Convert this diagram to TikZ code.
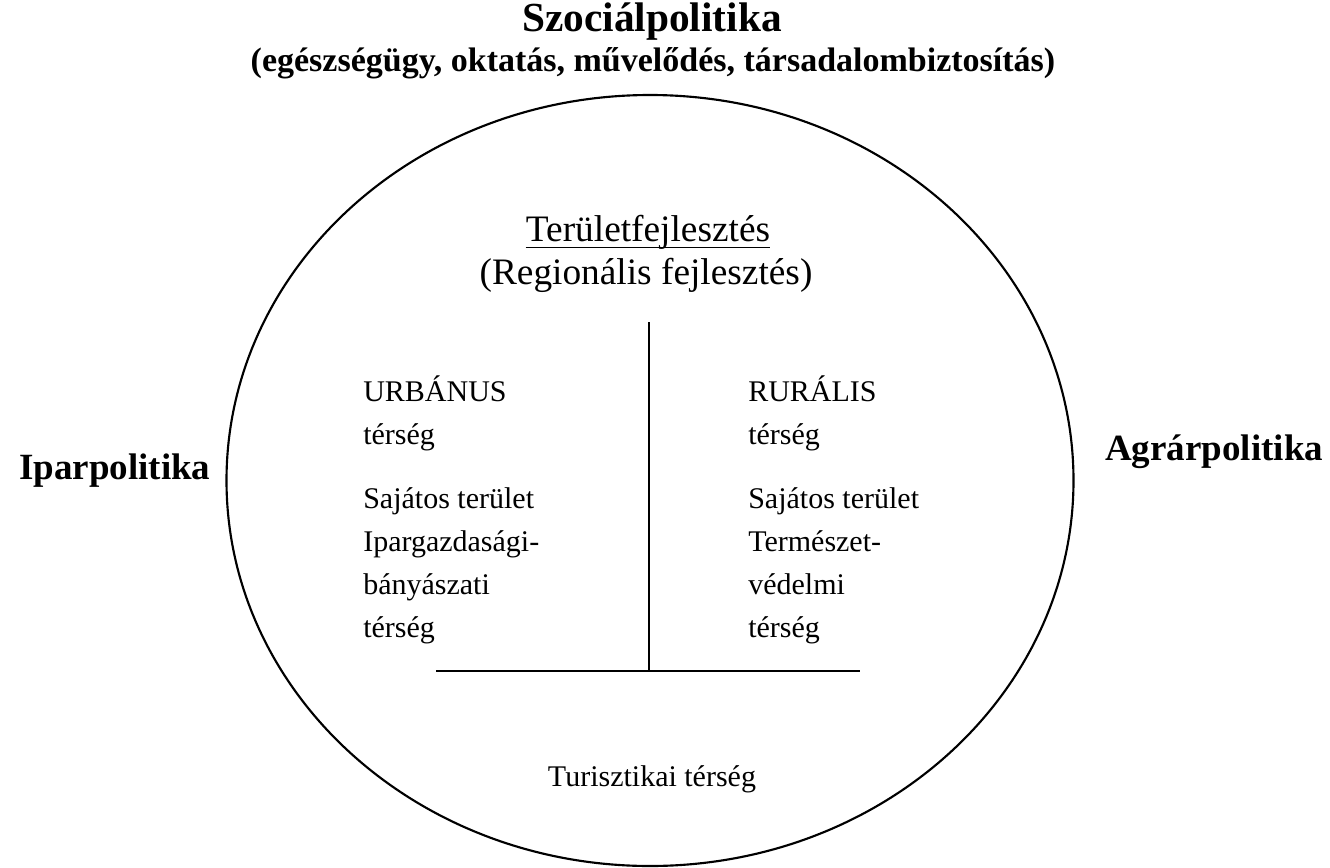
\documentclass[tikz,border=0pt]{standalone}
\usepackage{fontspec}
\setmainfont{Liberation Serif}
\usepackage{tikz}
\tikzset{
  plain/.style={inner sep=0pt,anchor=base west,align=left,font=\fontsize{22.5}{32.25}\selectfont},
  policy/.style={inner sep=0pt,anchor=base west,font=\bfseries\fontsize{27.75}{33}\selectfont}
}

\begin{document}
\begin{tikzpicture}[x=0.75pt,y=0.75pt,yscale=-1,xscale=1]
        \path[use as bounding box] (0,0) rectangle (1330,867);

        %Shape: Ellipse [id:szocial]
        \draw[line width=1.6pt] (650,480.5) ellipse (423.5 and 385.5);
        %Coordinates of the T lines
        \coordinate (vtop) at (649,322);
        \coordinate (vbot) at (649,671);
        \coordinate (hleft) at (436,671);
        \coordinate (hright) at (860,671);
        %Straight Lines [id:vertical]
        \draw[line width=1.1pt] (vtop) -- (vbot) ;
        %Straight Lines [id:horizontal]
        \draw[line width=1.1pt] (hleft) -- (hright) ;

        % Text Node
        \node (szoc) at (652,32) [inner sep=0pt,anchor=base,font=\bfseries\fontsize{31}{36}\selectfont] {Szociálpolitika};
        % Text Node
        \node (szocsub) at (653,71) [inner sep=0pt,anchor=base,font=\bfseries\fontsize{25.5}{30}\selectfont] {(egészségügy, oktatás, művelődés, társadalombiztosítás)};
        % Text Node
        \node (terfejl) at (648,241) [inner sep=0pt,anchor=base,font=\fontsize{28}{33}\selectfont] {Területfejlesztés};
        %Underline
        \draw[line width=1.1pt] ([yshift=5pt]terfejl.base west) -- ([yshift=5pt]terfejl.base east);
        % Text Node
        \node (regfejl) at (646,284) [inner sep=0pt,anchor=base,font=\fontsize{28}{33}\selectfont] {(Regionális fejlesztés)};
        % Text Node
        \node (urbhead) at (363,444) [plain] {URBÁNUS\\térség};
        % Text Node
        \node (urbtext) at (363,637) [plain] {Sajátos terület\\Ipargazdasági-\\bányászati\\térség};
        % Text Node
        \node (rurhead) at (748,444) [plain] {RURÁLIS\\térség};
        % Text Node
        \node (rurtext) at (748,637) [plain] {Sajátos terület\\Természet-\\védelmi\\térség};
        % Text Node
        \node (turiszt) at (652,786) [inner sep=0pt,anchor=base,font=\fontsize{22.5}{28.9}\selectfont] {Turisztikai térség};
        % Text Node
        \node (ipar) at (19,479) [policy] {Iparpolitika};
        % Text Node
        \node (agrar) at (1105,460) [policy] {Agrárpolitika};

\end{tikzpicture}
\end{document}
